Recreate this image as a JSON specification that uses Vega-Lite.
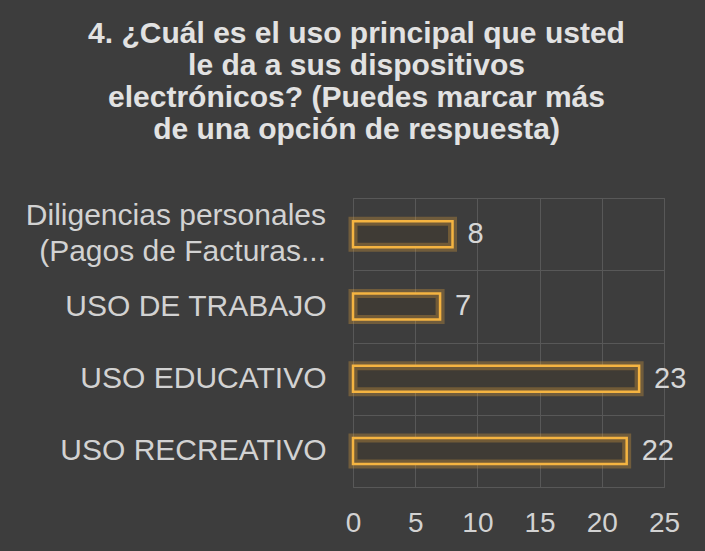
{
  "$schema": "https://vega.github.io/schema/vega-lite/v6.json",
  "autosize": {"type": "none"},
  "width": 311,
  "height": 289,
  "padding": {"left": 353, "top": 198, "right": 41, "bottom": 64},
  "background": "#3d3d3d",
  "title": {
    "text": ["4. ¿Cuál es el uso principal que usted", "le da a sus dispositivos", "electrónicos? (Puedes marcar más", "de una opción de respuesta)"],
    "anchor": "middle",
    "frame": "group",
    "dx": -152,
    "offset": 38,
    "font": "Liberation Sans",
    "fontSize": 30,
    "fontWeight": "bold",
    "color": "#e2e2e2",
    "lineHeight": 32
  },
  "config": {
    "view": {"stroke": "#585858", "strokeWidth": 1},
    "axis": {"labelFont": "Liberation Sans", "labelFontSize": 28, "labelColor": "#d2d2d2", "domain": false, "ticks": false, "gridColor": "#585858", "gridWidth": 1}
  },
  "data": {
    "values": [
      {"uso": "Diligencias personales\n(Pagos de Facturas...", "valor": 8},
      {"uso": "USO DE TRABAJO", "valor": 7},
      {"uso": "USO EDUCATIVO", "valor": 23},
      {"uso": "USO RECREATIVO", "valor": 22}
    ]
  },
  "encoding": {
    "y": {
      "field": "uso", "type": "nominal", "sort": null,
      "scale": {"paddingInner": 0, "paddingOuter": 0},
      "axis": {
        "title": null, "grid": true, "tickBand": "extent", "labelPadding": 27, "labelLimit": 0,
        "labelFontSize": 30,
        "labelExpr": "indexof(datum.label, '\\n') >= 0 ? '' : datum.label"
      }
    },
    "x": {
      "field": "valor", "type": "quantitative",
      "scale": {"domain": [0, 25], "nice": false},
      "axis": {"title": null, "values": [0, 5, 10, 15, 20, 25], "grid": true, "labelPadding": 22, "labelFlush": false}
    }
  },
  "layer": [
    {"mark": {"type": "bar", "height": 26, "fill": "#3f3b35", "stroke": "#e9a53a", "strokeWidth": 9, "strokeOpacity": 0.3}},
    {"mark": {"type": "bar", "height": 26, "fillOpacity": 0, "stroke": "#f5b441", "strokeWidth": 2.5}},
    {"mark": {"type": "text", "align": "left", "baseline": "middle", "dx": 15, "font": "Liberation Sans", "fontSize": 29, "color": "#d6d6d6"}, "encoding": {"text": {"field": "valor", "type": "quantitative"}}},
    {
      "transform": [{"filter": "indexof(datum.uso, '\\n') >= 0"}],
      "mark": {"type": "text", "align": "right", "baseline": "middle", "dx": -27, "dy": -18, "lineBreak": "\n", "lineHeight": 36, "font": "Liberation Sans", "fontSize": 30, "color": "#d2d2d2"},
      "encoding": {"x": {"datum": 0, "type": "quantitative"}, "text": {"field": "uso", "type": "nominal"}}
    }
  ]
}
